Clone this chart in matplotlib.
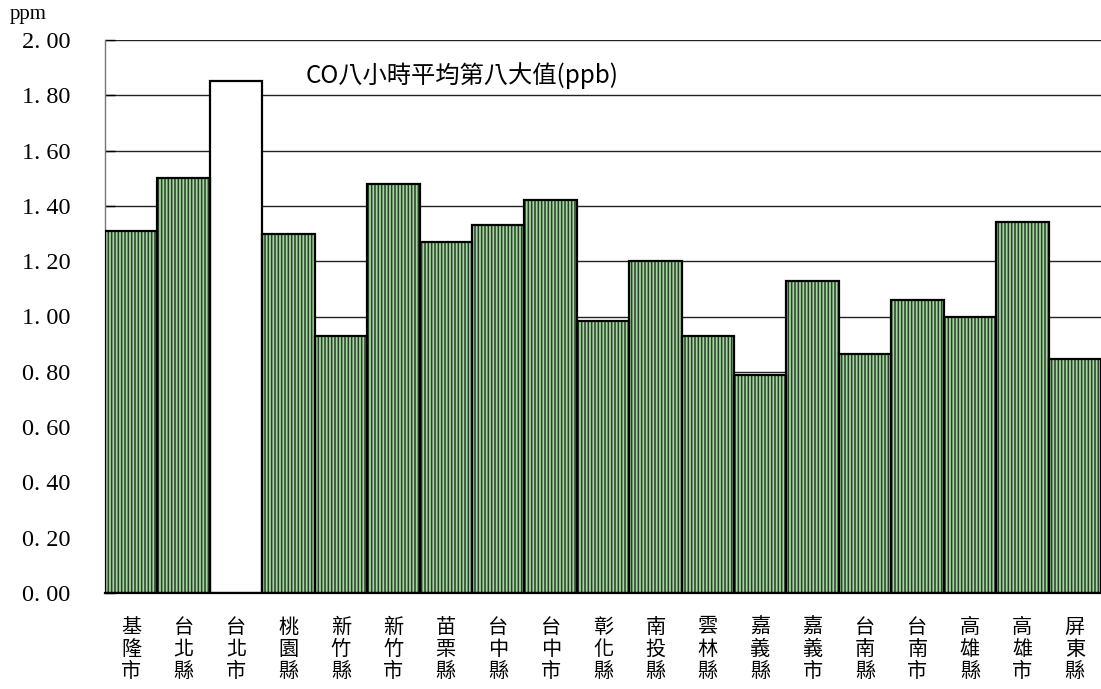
import matplotlib
matplotlib.use("Agg")
import matplotlib.pyplot as plt
import numpy as np

plt.rcParams["font.family"] = ["Noto Sans CJK TC", "DejaVu Sans"]
plt.rcParams["hatch.linewidth"] = 1.1

# CO 8-hour average, 8th highest value per county/city
counties = [
    "基隆市", "台北縣", "台北市", "桃園縣", "新竹縣", "新竹市", "苗栗縣",
    "台中縣", "台中市", "彰化縣", "南投縣", "雲林縣", "嘉義縣", "嘉義市",
    "台南縣", "台南市", "高雄縣", "高雄市", "屏東縣",
]
co_values = [
    1.31, 1.50, 1.85, 1.30, 0.93, 1.48, 1.27,
    1.33, 1.42, 0.985, 1.20, 0.93, 0.79, 1.13,
    0.865, 1.06, 1.00, 1.34, 0.845,
]
highlight = "台北市"
y_ticks = [0.0, 0.2, 0.4, 0.6, 0.8, 1.0, 1.2, 1.4, 1.6, 1.8, 2.0]

fig = plt.figure(figsize=(11.01, 6.89), dpi=100)
ax = fig.add_axes([105 / 1101, 96 / 689, 996 / 1101, 553 / 689])

x = np.arange(len(counties))
is_hl = np.array([c == highlight for c in counties])
vals = np.array(co_values)

# striped green bars (hatch drawn in the edge colour, outline added separately)
ax.bar(x[~is_hl], vals[~is_hl], width=1.0, color="#a4d6a0",
       edgecolor="#2a3f2a", hatch="|||||", linewidth=0, zorder=2)
ax.bar(x[is_hl], vals[is_hl], width=1.0, color="white",
       linewidth=0, zorder=2)
ax.bar(x, vals, width=1.0, fill=False, edgecolor="black",
       linewidth=1.6, zorder=3)

ax.set_xlim(-0.5, len(counties) - 0.5)
ax.set_ylim(0, 2.0)
ax.set_yticks(y_ticks)
ax.set_yticklabels([f"{v:.2f}".replace(".", ". ") for v in y_ticks],
                   family="Liberation Serif", fontsize=17.5)
ax.yaxis.grid(True, color="#222222", linewidth=1.0, zorder=1)
ax.set_axisbelow(True)
ax.tick_params(axis="y", direction="in", length=7, width=1.0, pad=60)
for lab in ax.get_yticklabels():
    lab.set_horizontalalignment("left")
ax.tick_params(axis="x", length=0)
ax.set_xticks(x)
ax.set_xticklabels(["\n".join(c) for c in counties], fontsize=14.5,
                   linespacing=1.08, va="top")
ax.tick_params(axis="x", pad=17)

for side in ("top", "right"):
    ax.spines[side].set_visible(False)
ax.spines["left"].set_color("#777777")
ax.spines["left"].set_linewidth(1.0)
ax.spines["bottom"].set_color("black")
ax.spines["bottom"].set_linewidth(1.6)

ax.text(3.32, 1.873, "CO八小時平均第八大值(ppb)", fontsize=17.5,
        ha="left", va="center", zorder=4)
fig.text(10 / 1101, 1 - 14 / 689, "ppm", family="Liberation Serif",
         fontsize=15, ha="left", va="center")

fig.savefig("out.png", dpi=100, facecolor="white")
